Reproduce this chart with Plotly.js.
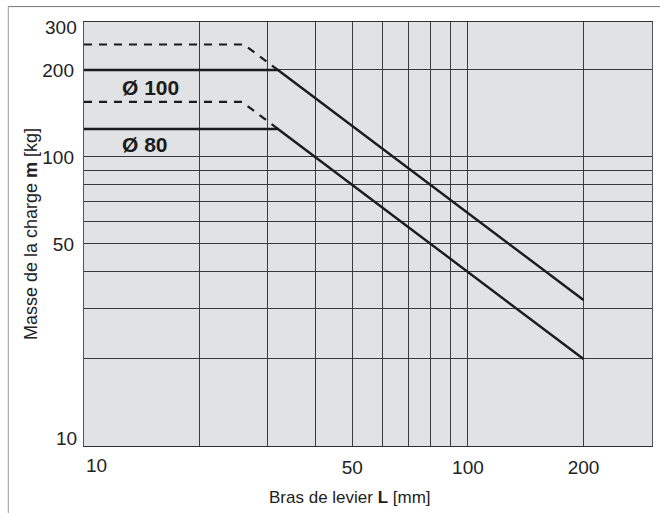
<!DOCTYPE html>
<html>
<head>
<meta charset="utf-8">
<script src="https://cdn.plot.ly/plotly-3.0.1.min.js"></script>
<style>html,body{margin:0;padding:0;background:#fff;}#chart{width:660px;height:513px;}</style>
</head>
<body>
<div id="chart"></div>
<script>
// Lever arm L [mm] and load mass m [kg]
const L_d100 = [10, 32, 200];
const m_d100 = [200, 200, 32];
const L_d100_dash = [10, 26.1, 32];
const m_d100_dash = [245, 245, 200];
const L_d80 = [10, 32, 200];
const m_d80 = [125, 125, 20];
const L_d80_dash = [10, 25.8, 32];
const m_d80_dash = [155, 155, 125];

const xGrid = [10, 20, 30, 40, 50, 60, 70, 80, 90, 100, 200];
const xTickText = ['', '', '', '', '50', '', '', '', '', '100', '200'];
const yGrid = [10, 20, 30, 40, 50, 60, 70, 80, 90, 100, 200];
const yTickText = ['', '', '', '', '50', '', '', '', '', '100', '200'];

const seriesNames = ['Ø 100', 'Ø 80'];

const FONT = 'Liberation Sans, Arial, Helvetica, sans-serif';
const lineCol = '#1b1b1b';
const TICK = 19;

const traces = [
  {x: L_d100_dash, y: m_d100_dash, mode: 'lines', line: {color: lineCol, width: 2.2, dash: '8px,7px'}, hoverinfo: 'skip'},
  {x: L_d80_dash, y: m_d80_dash, mode: 'lines', line: {color: lineCol, width: 2.2, dash: '8px,7px'}, hoverinfo: 'skip'},
  {x: L_d100, y: m_d100, mode: 'lines', name: seriesNames[0], line: {color: lineCol, width: 2.4}},
  {x: L_d80, y: m_d80, mode: 'lines', name: seriesNames[1], line: {color: lineCol, width: 2.4}}
];

const layout = {
  width: 660, height: 513,
  margin: {l: 84, r: 8.3, t: 21.7, b: 67.3},
  paper_bgcolor: '#ffffff',
  plot_bgcolor: '#e1e2e4',
  showlegend: false,
  font: {family: FONT, size: 17, color: '#222'},
  xaxis: {
    type: 'log', range: [1, 2.4795],
    tickmode: 'array', tickvals: xGrid, ticktext: xTickText,
    showgrid: true, gridcolor: '#3a3a3a', gridwidth: 1,
    showline: true, mirror: true, linecolor: '#333', linewidth: 1.2,
    ticks: '', ticklabelstandoff: 4, zeroline: false,
    tickfont: {family: FONT, size: TICK, color: '#222'}
  },
  yaxis: {
    type: 'log', range: [1, 2.467],
    tickmode: 'array', tickvals: yGrid, ticktext: yTickText,
    showgrid: true, gridcolor: '#3a3a3a', gridwidth: 1,
    showline: true, mirror: true, linecolor: '#555', linewidth: 1.2,
    ticks: '', ticklabelstandoff: 5, zeroline: false,
    tickfont: {family: FONT, size: TICK, color: '#222'},
    title: {text: 'Masse de la charge <b>m</b> [kg]', font: {family: FONT, size: 18, color: '#222'}, standoff: 0}
  },
  annotations: [
    {xref: 'x', yref: 'y', x: Math.log10(12.4), y: Math.log10(174), text: '<b>' + seriesNames[0] + '</b>', showarrow: false, xanchor: 'left', yanchor: 'middle', font: {family: FONT, size: 21, color: '#1b1b1b'}},
    {xref: 'x', yref: 'y', x: Math.log10(12.4), y: Math.log10(110.5), text: '<b>' + seriesNames[1] + '</b>', showarrow: false, xanchor: 'left', yanchor: 'middle', font: {family: FONT, size: 21, color: '#1b1b1b'}},
    {xref: 'paper', yref: 'paper', x: 0, y: 0, yshift: -19, text: '10', showarrow: false, xanchor: 'left', yanchor: 'middle', font: {family: FONT, size: TICK, color: '#222'}},
    {xref: 'paper', yref: 'paper', x: 0, y: 0, xshift: -5, yshift: 8, text: '10', showarrow: false, xanchor: 'right', yanchor: 'middle', font: {family: FONT, size: TICK, color: '#222'}},
    {xref: 'paper', yref: 'paper', x: 0, y: 1, xshift: -5, yshift: -5, text: '300', showarrow: false, xanchor: 'right', yanchor: 'middle', font: {family: FONT, size: TICK, color: '#222'}},
    {xref: 'paper', yref: 'paper', x: 0.469, y: -0.121, text: 'Bras de levier <b>L</b> [mm]', showarrow: false, xanchor: 'center', yanchor: 'middle', font: {family: FONT, size: 17, color: '#222'}}
  ],
  shapes: [
    {type: 'line', xref: 'paper', yref: 'paper', x0: -0.1333, x1: 1.02, y0: 1.0363, y1: 1.0363, line: {color: '#777', width: 1}},
    {type: 'line', xref: 'paper', yref: 'paper', x0: -0.1333, x1: -0.1333, y0: 1.0363, y1: -0.17, line: {color: '#999', width: 1}}
  ]
};

Plotly.newPlot('chart', traces, layout, {displayModeBar: false, staticPlot: true});
</script>
</body>
</html>
